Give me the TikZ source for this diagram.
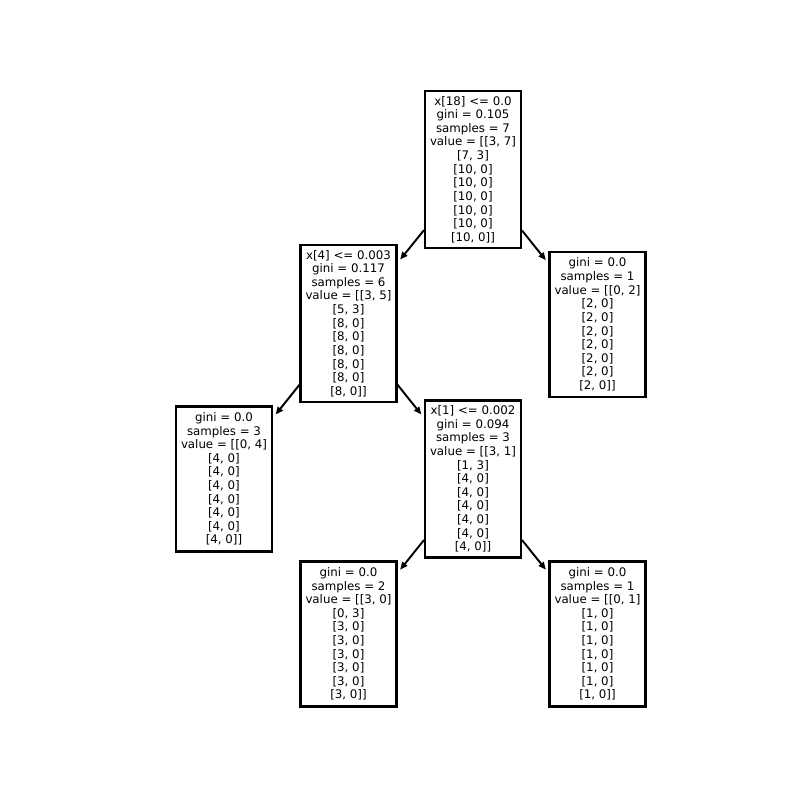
\documentclass[tikz,border=0pt]{standalone}
\usepackage{fontspec}
\setmainfont{DejaVu Sans}
\usetikzlibrary{arrows.meta}
\begin{document}
\begin{tikzpicture}[x=0.72pt, y=-0.72pt,
  split/.style={draw, line width=1.6pt, fill=white, align=center, inner sep=0pt,
    minimum width=69pt, minimum height=113pt, font=\fontsize{8.5}{9.8}\selectfont},
  leaf/.style={split, minimum height=104.5pt},
  edge/.style={-{Triangle[length=5.5pt,width=4.5pt]}, line width=1.4pt, shorten >=3pt}]
\useasboundingbox (0,0) rectangle (797,800);
\node[split] (root) at (473,169.5) {x[18] <= 0.0\\gini = 0.105\\samples = 7\\value = [[3, 7]\\{}[7, 3]\\{}[10, 0]\\{}[10, 0]\\{}[10, 0]\\{}[10, 0]\\{}[10, 0]\\{}[10, 0]]};
\node[split] (xfour) at (348.5,323.5) {x[4] <= 0.003\\gini = 0.117\\samples = 6\\value = [[3, 5]\\{}[5, 3]\\{}[8, 0]\\{}[8, 0]\\{}[8, 0]\\{}[8, 0]\\{}[8, 0]\\{}[8, 0]]};
\node[leaf] (rleaf) at (597.5,324.5) {gini = 0.0\\samples = 1\\value = [[0, 2]\\{}[2, 0]\\{}[2, 0]\\{}[2, 0]\\{}[2, 0]\\{}[2, 0]\\{}[2, 0]\\{}[2, 0]]};
\node[leaf] (lleaf) at (224,479) {gini = 0.0\\samples = 3\\value = [[0, 4]\\{}[4, 0]\\{}[4, 0]\\{}[4, 0]\\{}[4, 0]\\{}[4, 0]\\{}[4, 0]\\{}[4, 0]]};
\node[split] (xone) at (473,479) {x[1] <= 0.002\\gini = 0.094\\samples = 3\\value = [[3, 1]\\{}[1, 3]\\{}[4, 0]\\{}[4, 0]\\{}[4, 0]\\{}[4, 0]\\{}[4, 0]\\{}[4, 0]]};
\node[leaf] (bleft) at (348.5,634) {gini = 0.0\\samples = 2\\value = [[3, 0]\\{}[0, 3]\\{}[3, 0]\\{}[3, 0]\\{}[3, 0]\\{}[3, 0]\\{}[3, 0]\\{}[3, 0]]};
\node[leaf] (bright) at (597.5,634) {gini = 0.0\\samples = 1\\value = [[0, 1]\\{}[1, 0]\\{}[1, 0]\\{}[1, 0]\\{}[1, 0]\\{}[1, 0]\\{}[1, 0]\\{}[1, 0]]};
\draw[edge] (root) -- (xfour);
\draw[edge] (root) -- (rleaf);
\draw[edge] (xfour) -- (lleaf);
\draw[edge] (xfour) -- (xone);
\draw[edge] (xone) -- (bleft);
\draw[edge] (xone) -- (bright);
\end{tikzpicture}
\end{document}
